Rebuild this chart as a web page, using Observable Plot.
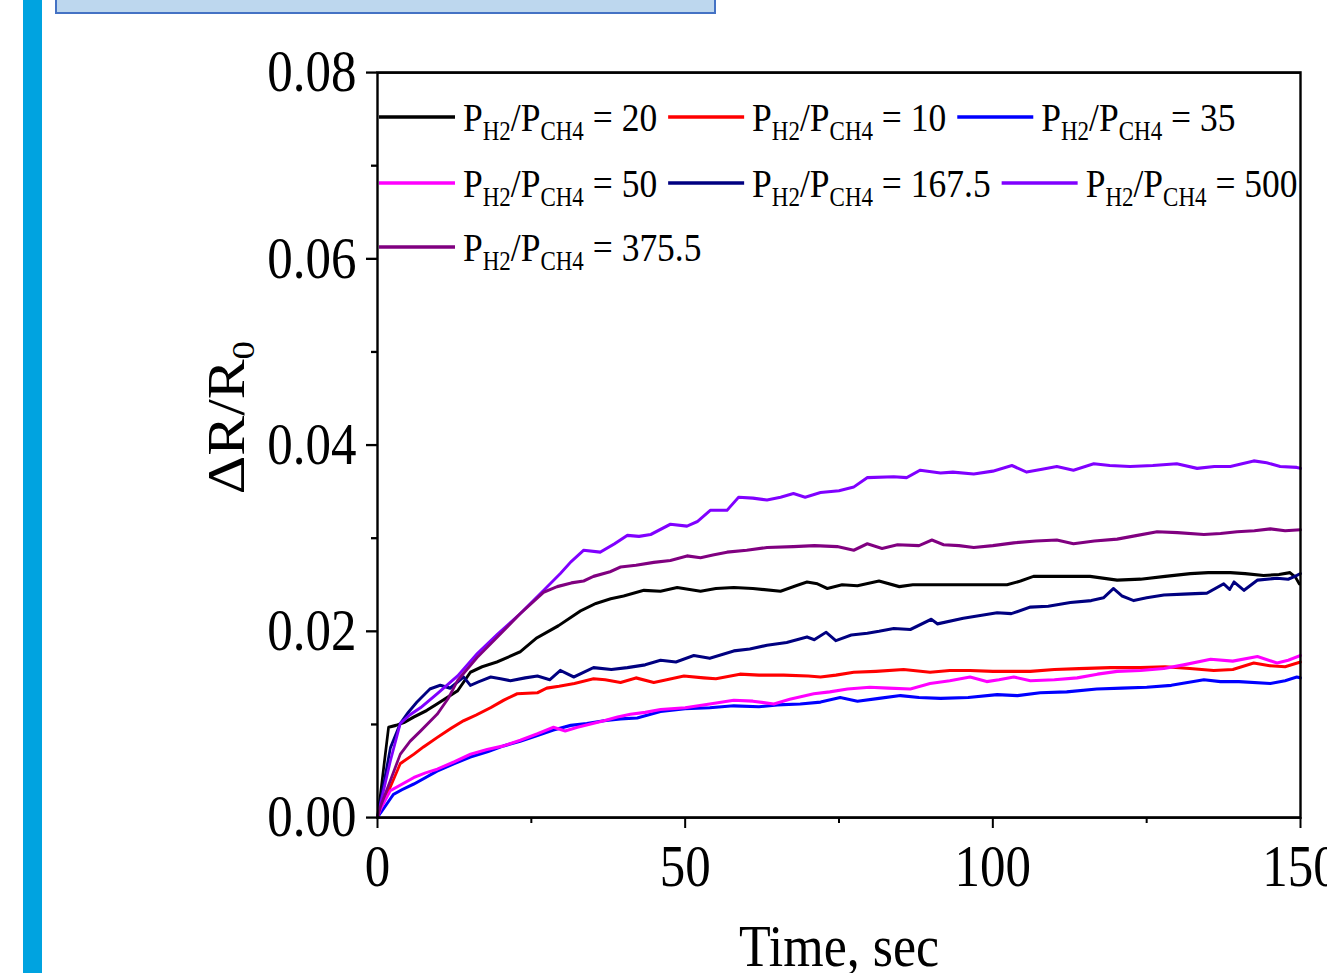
<!DOCTYPE html>
<html><head><meta charset="utf-8">
<script src="https://cdn.jsdelivr.net/npm/d3@7"></script>
<script src="https://cdn.jsdelivr.net/npm/@observablehq/plot@0.6"></script>
<style>
html,body{margin:0;padding:0;background:#fff;overflow:hidden;width:1327px;height:973px;}
#bar{position:absolute;left:23px;top:0;width:19px;height:973px;background:#00A3E0;z-index:2}
#box{position:absolute;left:55px;top:-4px;width:661px;height:18px;background:#BDD7EE;border:2px solid #4472C4;box-sizing:border-box;z-index:2}
#chart{position:absolute;left:0;top:0;}
</style></head><body>
<div id="bar"></div><div id="box"></div><div id="chart"></div>
<script>
// ---- data ----
const seriesLabels = ["20", "10", "35", "50", "167.5", "500", "375.5"];
const seriesColors = ["#000000", "#FF0000", "#0000FF", "#FF00FF", "#000080", "#8000FF", "#800080"];

const s20 = [[0,0],[0.5,0.0026],[1.8,0.0097],[3,0.0099],[4.3,0.0102],[5.9,0.0108],[8,0.0115],[9.7,0.0122],[13,0.0136],[15.1,0.0156],[17,0.0162],[19.4,0.0167],[23.2,0.0178],[25.9,0.0193],[29.4,0.0206],[33,0.0222],[35.5,0.0230],[37.9,0.0235],[40,0.0238],[43.3,0.0244],[46,0.0243],[48.7,0.0247],[52.5,0.0243],[55,0.0246],[57.9,0.0247],[61,0.0246],[65.5,0.0243],[68,0.0249],[69.8,0.0253],[71.5,0.0251],[73.1,0.0246],[75.5,0.0250],[78,0.0249],[81.5,0.0254],[84.8,0.0248],[87,0.0250],[91.5,0.0250],[96,0.0250],[102.3,0.0250],[104.5,0.0254],[106.6,0.0259],[111,0.0259],[115.8,0.0259],[120.2,0.0255],[124,0.0256],[128,0.0259],[132.1,0.0262],[135,0.0263],[138.6,0.0263],[141,0.0262],[144,0.0260],[146.5,0.0261],[148.3,0.0263],[149.2,0.0258],[149.8,0.0251]];
const s10 = [[0,0],[0.5,0.0012],[2.1,0.0033],[3.7,0.0058],[5.9,0.0068],[7.5,0.0076],[9.7,0.0086],[12,0.0096],[14,0.0104],[16,0.0110],[18.4,0.0118],[20.5,0.0126],[22.7,0.0133],[26,0.0134],[27.5,0.0139],[29.5,0.0141],[32,0.0144],[35.1,0.0149],[37,0.0148],[39.5,0.0145],[42,0.0150],[44.9,0.0145],[47,0.0148],[49.8,0.0152],[53,0.0150],[55,0.0149],[58.9,0.0154],[62,0.0153],[66,0.0153],[70,0.0152],[72,0.0151],[74.5,0.0153],[77.4,0.0156],[81,0.0157],[85.5,0.0159],[89.8,0.0156],[93,0.0158],[96.3,0.0158],[100,0.0157],[106.1,0.0157],[110,0.0159],[114,0.0160],[119.1,0.0161],[124,0.0161],[128,0.0162],[132,0.0160],[135.9,0.0158],[139,0.0159],[142.4,0.0166],[145,0.0163],[147.5,0.0162],[150,0.0167]];
const s35 = [[0,0],[0.5,0.0005],[2.6,0.0025],[4,0.0030],[5.9,0.0036],[7.8,0.0043],[9.7,0.0050],[12.5,0.0058],[15.1,0.0065],[18,0.0071],[20.5,0.0077],[23.2,0.0082],[26,0.0088],[28.6,0.0094],[31.4,0.0099],[34,0.0101],[36.8,0.0104],[39.5,0.0106],[42.2,0.0107],[46,0.0114],[50,0.0117],[54,0.0118],[57.9,0.0120],[62,0.0119],[65,0.0121],[68.7,0.0122],[72,0.0124],[75.2,0.0129],[78,0.0125],[81.5,0.0128],[85,0.0131],[88,0.0129],[91.5,0.0128],[96,0.0129],[100.7,0.0132],[104,0.0131],[107.7,0.0134],[112,0.0135],[116.9,0.0138],[121,0.0139],[125,0.0140],[129,0.0142],[134.3,0.0148],[137,0.0146],[140,0.0146],[145.1,0.0144],[147.5,0.0147],[149.4,0.0151],[150,0.0150]];
const s50 = [[0,0],[0.5,0.0009],[2.1,0.0029],[4,0.0036],[5.9,0.0043],[7.8,0.0048],[9.7,0.0052],[12.5,0.0060],[15.1,0.0068],[17.8,0.0073],[20.5,0.0077],[23.2,0.0083],[26,0.0090],[28.6,0.0097],[30.5,0.0093],[32.5,0.0097],[36.8,0.0104],[39,0.0108],[41.1,0.0111],[43.5,0.0113],[46,0.0116],[50,0.0118],[54,0.0122],[57.9,0.0126],[61,0.0125],[64.4,0.0122],[67,0.0127],[70.9,0.0133],[73.5,0.0135],[76.4,0.0138],[80,0.0140],[83,0.0139],[86.6,0.0138],[89.8,0.0144],[93,0.0147],[96.3,0.0151],[99,0.0146],[101,0.0148],[103.4,0.0151],[106.1,0.0147],[110,0.0148],[113.7,0.0150],[117,0.0154],[120.2,0.0157],[124,0.0158],[127.8,0.0160],[131,0.0164],[135.4,0.0170],[139,0.0168],[143,0.0173],[146.2,0.0166],[148,0.0169],[150,0.0174]];
const s167_5 = [[0,0],[0.5,0.0018],[2.1,0.0075],[3.7,0.0101],[5,0.0113],[6.4,0.0124],[8.5,0.0138],[10.2,0.0142],[11.8,0.0139],[14,0.0151],[15.1,0.0142],[16.5,0.0146],[18.4,0.0151],[20,0.0149],[21.6,0.0147],[24,0.0150],[26,0.0152],[28,0.0148],[29.7,0.0158],[31.9,0.0151],[35.1,0.0161],[38,0.0159],[40.6,0.0161],[43.5,0.0164],[46,0.0169],[48.5,0.0167],[51.4,0.0174],[54,0.0171],[57.9,0.0179],[60.5,0.0181],[63.3,0.0185],[66.5,0.0188],[69.8,0.0194],[71,0.0191],[72.9,0.0199],[74.5,0.0190],[77,0.0196],[79.6,0.0198],[81.5,0.0200],[83.9,0.0203],[86.6,0.0202],[90,0.0213],[91,0.0208],[95.2,0.0214],[100.7,0.0220],[103,0.0219],[106.1,0.0226],[109,0.0227],[112.6,0.0231],[116,0.0233],[118,0.0236],[119.6,0.0246],[121,0.0238],[122.9,0.0233],[125,0.0236],[127.8,0.0239],[131,0.0240],[134.8,0.0241],[137.5,0.0251],[138.5,0.0245],[139.2,0.0253],[140.8,0.0244],[143,0.0255],[146.2,0.0257],[148,0.0256],[149.4,0.0260],[150,0.0262]];
const s500 = [[0,0],[0.5,0.0015],[2.1,0.0061],[3.7,0.0101],[5.2,0.0110],[7,0.0118],[9.7,0.0133],[13,0.0152],[16.2,0.0176],[19.5,0.0197],[23.2,0.0219],[27,0.0244],[29.7,0.0262],[31.5,0.0275],[33.5,0.0287],[36.2,0.0285],[38.5,0.0294],[40.6,0.0303],[42.5,0.0302],[44.4,0.0304],[47.6,0.0315],[50.3,0.0313],[52,0.0318],[54.1,0.0330],[56.8,0.0330],[58.7,0.0344],[61,0.0343],[63.3,0.0341],[65.5,0.0344],[67.6,0.0348],[69.5,0.0344],[72,0.0349],[75,0.0351],[77.4,0.0355],[79.6,0.0365],[83.9,0.0366],[86,0.0365],[88.2,0.0373],[91.5,0.0370],[93.5,0.0371],[96.9,0.0369],[100,0.0372],[103.1,0.0378],[105.5,0.0371],[108,0.0374],[110.4,0.0377],[113.1,0.0373],[116.4,0.0380],[119,0.0378],[122.3,0.0377],[126,0.0378],[129.9,0.0380],[133.2,0.0375],[136,0.0377],[138.6,0.0377],[142.4,0.0383],[144.5,0.0381],[146.7,0.0377],[149.4,0.0376],[150,0.0375]];
const s375_5 = [[0,0],[0.5,0.0012],[2.1,0.0040],[3.7,0.0068],[5.3,0.0082],[7,0.0093],[9.7,0.0111],[11.5,0.0128],[13,0.0147],[16.2,0.0172],[19.5,0.0194],[23.2,0.0219],[27,0.0242],[29.2,0.0248],[31.5,0.0252],[33.5,0.0254],[35.1,0.0259],[37.8,0.0264],[39.5,0.0269],[42,0.0271],[44.9,0.0274],[47.6,0.0276],[50.3,0.0281],[52.5,0.0279],[54.5,0.0282],[56.8,0.0285],[60,0.0287],[63.3,0.0290],[67.6,0.0291],[71,0.0292],[74.7,0.0291],[77.4,0.0287],[79.6,0.0294],[82,0.0289],[84.5,0.0293],[88,0.0292],[90.1,0.0298],[92,0.0293],[94.5,0.0292],[96.9,0.0290],[100,0.0292],[103.4,0.0295],[107,0.0297],[110.4,0.0298],[113.1,0.0294],[116.5,0.0297],[120.2,0.0299],[123.5,0.0303],[126.7,0.0307],[130,0.0306],[134.3,0.0304],[137,0.0305],[139.7,0.0307],[142.5,0.0308],[145.1,0.0310],[147.5,0.0308],[150,0.0309]];
const seriesValues = [s20, s10, s35, s50, s167_5, s500, s375_5];

const yMajorTicks = [0, 0.02, 0.04, 0.06, 0.08];
const yMinorTicks = [0.01, 0.03, 0.05, 0.07];
const xMajorTicks = [0, 50, 100, 150];
const xMinorTicks = [25, 75, 125];
const xLabel = "Time, sec";
const yLabel = "ΔR/R0";
const legendRows = [[0, 1, 2], [3, 4, 5], [6]];

// ---- layout ----
const W = 1327, SH = 973, k = 1.15;
const H = Math.round(SH / k), ky = SH / H;
const plotTop = 72, plotBottom = 817, plotLeft = 377, plotRight = 1300;

const data = seriesValues.flatMap((arr, i) => arr.map(([t, v]) => ({t, v, s: seriesLabels[i]})));

const chart = Plot.plot({
  width: W, height: H,
  marginLeft: plotLeft, marginRight: W - plotRight,
  marginTop: plotTop / ky, marginBottom: H - plotBottom / ky,
  style: {fontFamily: "'Liberation Serif','Times New Roman',serif", color: "#000", background: "#fff"},
  x: {domain: [0, 150]},
  y: {domain: [0, 0.08]},
  color: {domain: seriesLabels, range: seriesColors},
  marks: [
    Plot.line(data, {x: "t", y: "v", z: "s", stroke: "s", strokeWidth: 2.7, strokeLinejoin: "round"}),
    Plot.frame({stroke: "#000", strokeWidth: 2.4}),
    Plot.axisY({ticks: yMajorTicks, tickFormat: d => d.toFixed(2), tickSize: 11, tickPadding: 10, fontSize: 51, strokeWidth: 2, label: null}),
    Plot.axisY({ticks: yMinorTicks, tickFormat: () => "", tickSize: 6, strokeWidth: 2, label: null}),
    Plot.axisX({ticks: xMajorTicks, tickFormat: d => String(d), tickSize: 11 / ky, tickPadding: 14, fontSize: 51, strokeWidth: 2, label: null}),
    Plot.axisX({ticks: xMinorTicks, tickFormat: () => "", tickSize: 6 / ky, strokeWidth: 2, label: null}),
    Plot.text([yLabel], {text: d => d, frameAnchor: "left", rotate: -90, dx: 243 - plotLeft, dy: 417 / ky - (plotTop + plotBottom) / 2 / ky, fontSize: 52, lineAnchor: "bottom", textAnchor: "middle"}),
    Plot.text([xLabel], {text: d => d, frameAnchor: "bottom", dy: (965 - plotBottom) / ky, fontSize: 52, lineAnchor: "bottom"})
  ]
});

chart.setAttribute("preserveAspectRatio", "none");
chart.setAttribute("width", W);
chart.setAttribute("height", SH);
chart.style.width = W + "px";
chart.style.height = SH + "px";
chart.style.maxWidth = "none";
document.getElementById("chart").appendChild(chart);

const ns = "http://www.w3.org/2000/svg";
function setParts(el, parts, subSize, shift) {
  el.textContent = "";
  let prevSub = false;
  for (const [str, sub] of parts) {
    const ts = document.createElementNS(ns, "tspan");
    ts.textContent = str;
    if (sub && !prevSub) ts.setAttribute("dy", shift);
    if (!sub && prevSub) ts.setAttribute("dy", -shift);
    if (sub) ts.setAttribute("font-size", subSize);
    el.appendChild(ts);
    prevSub = sub;
  }
}
for (const el of chart.querySelectorAll("text")) {
  if (el.textContent === yLabel) setParts(el, [["ΔR/R", false], ["0", true]], 32, 10);
}

// ---- legend ----
const legendRowY = [117, 183, 247];
const lg = d3.select(chart).append("g").attr("font-size", 35.5).attr("text-anchor", "start").style("white-space", "pre");
legendRows.forEach((row, r) => {
  const yLine = legendRowY[r] / ky;
  let x = 379;
  row.forEach(i => {
    lg.append("line").attr("x1", x).attr("x2", x + 76).attr("y1", yLine).attr("y2", yLine)
      .attr("stroke", seriesColors[i]).attr("stroke-width", 3.2);
    const t = lg.append("text").attr("x", x + 84).attr("y", yLine + 12).attr("fill", "#000").attr("text-anchor", "start");
    setParts(t.node(), [["P", false], ["H2", true], ["/P", false], ["CH4", true], [" = " + seriesLabels[i], false]], 23, 8);
    x = x + 84 + t.node().getComputedTextLength() + 11;
  });
});
</script></body></html>
